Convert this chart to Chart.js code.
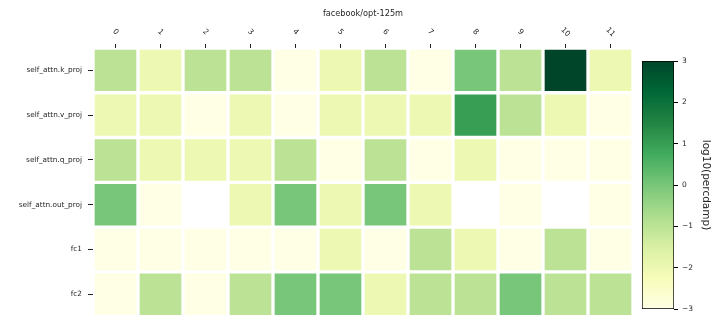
<!DOCTYPE html>
<html><head><meta charset="utf-8">
<script src="https://cdn.jsdelivr.net/npm/chart.js@4/dist/chart.umd.min.js"></script>
<style>
html,body{margin:0;padding:0;background:#fff;}
#wrap{position:relative;width:720px;height:327px;}
.layer{position:absolute;left:0;top:0;width:720px;height:327px;}
</style></head>
<body>
<div id="wrap">
  <div class="layer"><canvas id="heat"></canvas></div>
  <div class="layer" style="pointer-events:none"><canvas id="cbar"></canvas></div>
</div>
<script>
// ---- data (log10(percdamp)); null = empty cell ----
const title = 'facebook/opt-125m';
const colorbarLabel = 'log10(percdamp)';
const rowLabels = ['self_attn.k_proj','self_attn.v_proj','self_attn.q_proj','self_attn.out_proj','fc1','fc2'];
const colLabels = ['0','1','2','3','4','5','6','7','8','9','10','11'];
const kProj   = [-1,-2,-1,-1,-3,-2,-1,-3, 0,-1, 3,-2];
const vProj   = [-2,-2,-3,-2,-3,-2,-2,-2, 1,-1,-2,-3];
const qProj   = [-1,-2,-2,-2,-1,-3,-1,-3,-2,-3,-3,-3];
const outProj = [ 0,-3,null,-2, 0,-2, 0,-2,null,-3,null,-3];
const fc1     = [-3,-3,-3,-3,-3,-2,-3,-1,-2,-3,-1,-3];
const fc2     = [-3,-1,-3,-1, 0, 0,-2,-1,-1, 0,-1,-1];
const rows = [kProj, vProj, qProj, outProj, fc1, fc2];
const vmin = -3, vmax = 3;
const cbTicks = [-3,-2,-1,0,1,2,3];

// YlGn colormap
const ylgn = ['#ffffe5','#f7fcb9','#d9f0a3','#addd8e','#78c679','#41ab5d','#238443','#006837','#004529'];
function hex2rgb(h){return [parseInt(h.slice(1,3),16),parseInt(h.slice(3,5),16),parseInt(h.slice(5,7),16)];}
function cmap(v){
  let t=(v-vmin)/(vmax-vmin); t=Math.max(0,Math.min(1,t));
  const s=t*(ylgn.length-1); const i=Math.min(Math.floor(s),ylgn.length-2); const f=s-i;
  const a=hex2rgb(ylgn[i]), b=hex2rgb(ylgn[i+1]);
  return 'rgb('+a.map((c,k)=>Math.round(c+(b[k]-c)*f)).join(',')+')';
}

const FONT = "'DejaVu Sans', sans-serif";
const TXT = '#262626';

const datasets = rows.map((vals, r) => ({
  label: rowLabels[r],
  data: vals.map(v => v === null ? null : [r - 0.5, r + 0.5]),
  backgroundColor: vals.map(v => v === null ? 'rgba(0,0,0,0)' : cmap(v)),
  borderColor: '#ffffff',
  borderWidth: 2,
  borderSkipped: false,
  grouped: false,
  barPercentage: 1,
  categoryPercentage: 1
}));

const xLabelPlugin = {
  id: 'xLabels',
  afterDraw(chart){
    const xs = chart.scales.x, ctx = chart.ctx;
    ctx.save();
    ctx.fillStyle = TXT;
    ctx.font = '7.5px ' + FONT;
    ctx.textAlign = 'center';
    ctx.textBaseline = 'middle';
    colLabels.forEach((lab, i) => {
      const x = xs.getPixelForValue(i);
      ctx.save();
      ctx.translate(x, 32);
      ctx.rotate(Math.PI / 4);
      ctx.fillText(lab, 0, 0);
      ctx.restore();
    });
    ctx.restore();
  }
};

new Chart(document.getElementById('heat'), {
  type: 'bar',
  data: { labels: colLabels, datasets },
  plugins: [xLabelPlugin],
  options: {
    responsive: true, maintainAspectRatio: false, animation: false, devicePixelRatio: 1,
    layout: { padding: { left: 0, right: 87, top: 0, bottom: 9 } },
    plugins: { legend: { display: false }, tooltip: { enabled: false }, title: { display: false } },
    scales: {
      x: {
        type: 'category', position: 'top', offset: true,
        grid: { offset: false, drawOnChartArea: false, drawTicks: true, tickLength: 4, tickWidth: 1, tickColor: '#222' },
        border: { display: false },
        ticks: { display: false },
        title: { display: true, text: title, color: TXT, font: { family: FONT, size: 8.2 }, padding: { top: 9, bottom: 0 } },
        afterFit(s){ s.height = 48; }
      },
      y: {
        type: 'linear', reverse: true, min: -0.5, max: 5.5,
        afterBuildTicks(s){ s.ticks = rowLabels.map((_, i) => ({ value: i })); },
        ticks: { callback: v => rowLabels[v], color: TXT, font: { family: FONT, size: 7.3 }, padding: 6, autoSkip: false },
        grid: { drawOnChartArea: false, drawTicks: true, tickLength: 5, tickWidth: 1, tickColor: '#222' },
        border: { display: false },
        afterFit(s){ s.width = 93; }
      }
    }
  }
});

// ---- colorbar ----
new Chart(document.getElementById('cbar'), {
  type: 'bar',
  data: { labels: ['cb'], datasets: [{
    data: [[vmin, vmax]],
    backgroundColor: (c) => {
      const ca = c.chart.chartArea; if (!ca) return '#fff';
      const g = c.chart.ctx.createLinearGradient(0, ca.bottom, 0, ca.top);
      ylgn.forEach((col, i) => g.addColorStop(i / (ylgn.length - 1), col));
      return g;
    },
    borderColor: '#000', borderWidth: 1, borderSkipped: false,
    barPercentage: 1, categoryPercentage: 1
  }]},
  options: {
    responsive: true, maintainAspectRatio: false, animation: false, devicePixelRatio: 1,
    layout: { padding: { left: 642, right: 0, top: 61, bottom: 18 } },
    plugins: { legend: { display: false }, tooltip: { enabled: false } },
    scales: {
      x: { display: false },
      y: {
        position: 'right', min: vmin, max: vmax,
        afterBuildTicks(s){ s.ticks = cbTicks.map(v => ({ value: v })); },
        ticks: { callback: v => (v < 0 ? '\u2212' + Math.abs(v) : String(v)), color: TXT, font: { family: FONT, size: 7.5 }, padding: 4 },
        grid: { drawOnChartArea: false, drawTicks: true, tickLength: 4, tickWidth: 1, tickColor: '#000' },
        border: { display: false },
        title: { display: true, text: colorbarLabel, color: TXT, font: { family: FONT, size: 10.5 }, padding: { top: 7.7, bottom: 0 } },
        afterFit(s){ s.width = 46; }
      }
    }
  }
});
</script>
</body></html>
